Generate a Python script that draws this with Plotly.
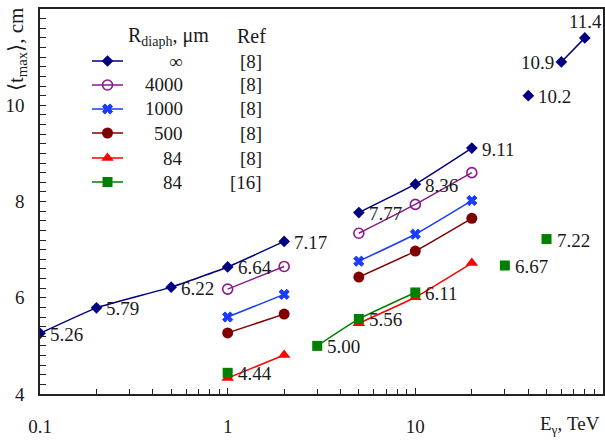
import math
import plotly.graph_objects as go

# ---------------- data ----------------
energy_inf = [0.1, 0.2, 0.5, 1, 2, 5, 10, 20, 40, 60, 80]
tmax_inf = [5.26, 5.79, 6.22, 6.64, 7.17, 7.77, 8.36, 9.11, 10.2, 10.9, 11.4]
seg_inf = [0, 0, 0, 0, 0, 1, 1, 1, 2, 3, 3]

energy_std = [1, 2, 5, 10, 20]
seg_std = [0, 0, 1, 1, 1]
tmax_4000 = [6.18, 6.65, 7.34, 7.94, 8.60]
tmax_1000 = [5.60, 6.07, 6.76, 7.32, 8.02]
tmax_500 = [5.27, 5.66, 6.43, 6.97, 7.65]
tmax_84_ref8 = [4.33, 4.81, 5.47, 6.01, 6.72]

energy_84_ref16 = [1, 3, 5, 10, 30, 50]
tmax_84_ref16 = [4.44, 5.00, 5.56, 6.11, 6.67, 7.22]
seg_84_ref16 = [0, 1, 1, 1, 2, 3]

legend_radius = ["∞", "4000", "1000", "500", "84", "84"]
legend_ref = ["[8]", "[8]", "[8]", "[8]", "[8]", "[16]"]

x_major = [0.1, 1, 10]
x_major_text = ["0.1", "1", "10"]
x_minor = [m * d for d in (0.1, 1, 10) for m in range(2, 10)]
y_major = [4, 6, 8, 10]

# ---------------- styles ----------------
FONT = "Liberation Serif"
TXT = "#1a1a1a"
FS = 19
series_styles = [
    dict(color="#000080", symbol="diamond", size=9, fill=True),
    dict(color="#8b1a8b", symbol="circle-open", size=10, fill=False),
    dict(color="#1a3cff", symbol="x", size=9, fill=True),
    dict(color="#800000", symbol="circle", size=11, fill=True),
    dict(color="#ff0000", symbol="triangle-up", size=11, fill=True),
    dict(color="#008000", symbol="square", size=10, fill=True),
]


def with_gaps(xs, ys, segs):
    ox, oy = [], []
    for i, (x, y, s) in enumerate(zip(xs, ys, segs)):
        if i > 0 and s != segs[i - 1]:
            ox.append(None)
            oy.append(None)
        ox.append(x)
        oy.append(y)
    return ox, oy


def marker_dict(st):
    if st["fill"]:
        return dict(symbol=st["symbol"], size=st["size"], color=st["color"],
                    line=dict(width=1 if st["symbol"] == "x" else 0, color=st["color"]))
    return dict(symbol=st["symbol"], size=st["size"], color=st["color"],
                line=dict(width=1.6, color=st["color"]))


fig = go.Figure()

series = [
    (energy_inf, tmax_inf, seg_inf),
    (energy_std, tmax_4000, seg_std),
    (energy_std, tmax_1000, seg_std),
    (energy_std, tmax_500, seg_std),
    (energy_std, tmax_84_ref8, seg_std),
    (energy_84_ref16, tmax_84_ref16, seg_84_ref16),
]

for (xs, ys, segs), st in zip(series, series_styles):
    gx, gy = with_gaps(xs, ys, segs)
    fig.add_trace(go.Scatter(
        x=gx, y=gy, mode="lines+markers", showlegend=False,
        line=dict(color=st["color"], width=1.5, shape="spline", smoothing=0.4),
        marker=marker_dict(st), connectgaps=False, hoverinfo="skip"))

# value labels
ann = []
def label(x, y, txt, xanchor="left", xshift=8, yshift=-1, yanchor="middle"):
    ann.append(dict(x=x, y=y, xref="x", yref="y", text=txt, showarrow=False,
                    xanchor=xanchor, yanchor=yanchor, xshift=xshift, yshift=yshift,
                    font=dict(family=FONT, size=FS, color=TXT)))

for i, (x, y) in enumerate(zip(energy_inf, tmax_inf)):
    txt = f"{y:.2f}" if y < 10 else f"{y:.1f}"
    lx = math.log10(x)
    if i == len(energy_inf) - 1:
        label(lx, y, txt, xanchor="center", xshift=1, yshift=4, yanchor="bottom")
    elif i == len(energy_inf) - 2:
        label(lx, y, txt, xanchor="right", xshift=-5)
    else:
        label(lx, y, txt)
for x, y in zip(energy_84_ref16, tmax_84_ref16):
    label(math.log10(x), y, f"{y:.2f}")

# ---------------- legend (drawn on overlay pixel axes) ----------------
row_y = [61, 85, 109, 133, 158, 182]
for st, ry in zip(series_styles, row_y):
    fig.add_trace(go.Scatter(
        x=[92, 123], y=[ry, ry], mode="lines", xaxis="x2", yaxis="y2",
        line=dict(color=st["color"], width=1.5), showlegend=False, hoverinfo="skip"))
    fig.add_trace(go.Scatter(
        x=[107.5], y=[ry], mode="markers", xaxis="x2", yaxis="y2",
        marker=marker_dict(st), showlegend=False, hoverinfo="skip"))

def px_x(px):
    return (px - 40) / 563.0

def px_y(py):
    return (394 - py) / 385.0

for r, ref, ry in zip(legend_radius, legend_ref, row_y):
    ann.append(dict(x=px_x(185), y=px_y(ry), xref="paper", yref="paper", text=r,
                    showarrow=False, xanchor="right", yanchor="middle",
                    font=dict(family=FONT, size=FS, color=TXT)))
    ann.append(dict(x=px_x(264), y=px_y(ry), xref="paper", yref="paper", text=ref,
                    showarrow=False, xanchor="right", yanchor="middle",
                    font=dict(family=FONT, size=FS, color=TXT)))
ann.append(dict(x=px_x(126), y=px_y(36), xref="paper", yref="paper",
                text="R<sub>diaph</sub>, μm", showarrow=False, xanchor="left",
                yanchor="middle", font=dict(family=FONT, size=20, color=TXT)))
ann.append(dict(x=px_x(235), y=px_y(36), xref="paper", yref="paper",
                text="Ref", showarrow=False, xanchor="left",
                yanchor="middle", font=dict(family=FONT, size=20, color=TXT)))

# axis titles
ann.append(dict(x=px_x(17), y=px_y(50), xref="paper", yref="paper",
                text="⟨t<sub>max</sub>⟩, cm", showarrow=False, textangle=-90,
                xanchor="center", yanchor="middle",
                font=dict(family=FONT, size=21, color=TXT)))
ann.append(dict(x=px_x(602), y=px_y(425), xref="paper", yref="paper",
                text="E<sub>γ</sub>, TeV", showarrow=False, xanchor="right",
                yanchor="middle", font=dict(family=FONT, size=FS, color=TXT)))

fig.update_layout(
    width=605, height=441,
    margin=dict(l=40, r=2, t=9, b=47, autoexpand=False),
    paper_bgcolor="white", plot_bgcolor="white",
    showlegend=False,
    font=dict(family=FONT, size=FS, color=TXT),
    annotations=ann,
    xaxis=dict(type="log", range=[-1, 2], tickmode="array", tickvals=x_major,
               ticktext=x_major_text, ticks="inside", ticklen=6, tickwidth=1.2,
               tickcolor="#222", showgrid=False, zeroline=False, automargin=False,
               showline=True, mirror=True, linecolor="#222", linewidth=1.5,
               ticklabelstandoff=14,
               tickfont=dict(family=FONT, size=FS, color=TXT),
               minor=dict(tickmode="array", tickvals=x_minor, ticks="inside",
                          ticklen=5, tickwidth=1.2, tickcolor="#222", showgrid=False)),
    yaxis=dict(range=[4, 12], tickmode="array", tickvals=y_major,
               ticks="inside", ticklen=6, tickwidth=1.2, tickcolor="#222",
               showgrid=False, zeroline=False, automargin=False,
               showline=True, mirror=True, linecolor="#222", linewidth=1.5,
               ticklabelstandoff=10,
               tickfont=dict(family=FONT, size=FS, color=TXT),
               minor=dict(tickmode="linear", tick0=4, dtick=0.2, ticks="inside",
                          ticklen=6, tickwidth=1.2, tickcolor="#222", showgrid=False)),
    xaxis2=dict(range=[40, 603], overlaying="x", visible=False, fixedrange=True),
    yaxis2=dict(range=[394, 9], overlaying="y", visible=False, fixedrange=True),
)

fig.write_html("out.html", config={"displayModeBar": False},
               post_script="document.body.style.margin='0px';document.body.style.padding='0px';")
